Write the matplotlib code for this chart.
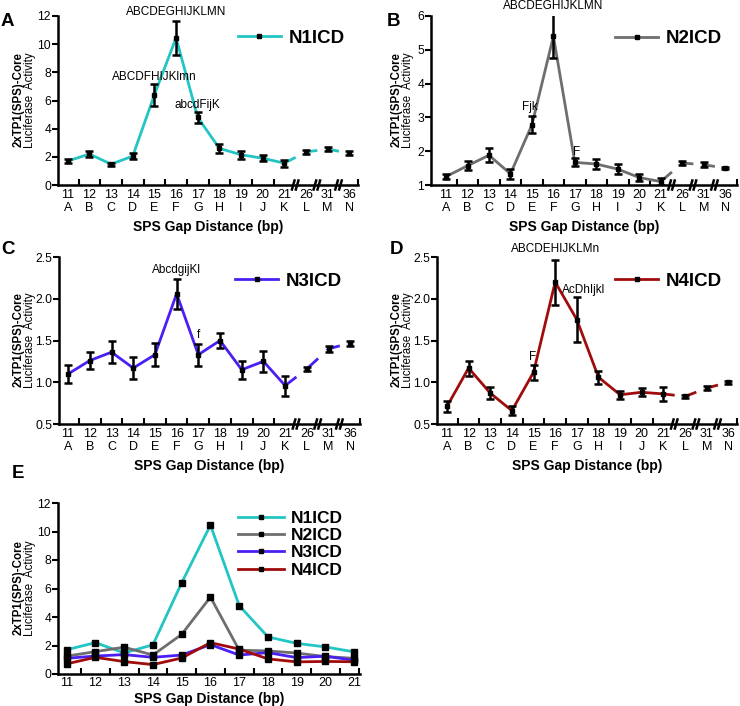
import matplotlib
matplotlib.use("Agg")
import matplotlib.pyplot as plt
import matplotlib.transforms as mtransforms

plt.rcParams['font.family'] = ['Liberation Sans', 'DejaVu Sans']

# --- data ---------------------------------------------------------------
gaps = [11, 12, 13, 14, 15, 16, 17, 18, 19, 20, 21, 26, 31, 36]
letters = ["A", "B", "C", "D", "E", "F", "G", "H", "I", "J", "K", "L", "M", "N"]

n1_mean = [1.70, 2.20, 1.48, 2.05, 6.40, 10.45, 4.80, 2.60, 2.15, 1.90, 1.55, 2.35, 2.55, 2.25]
n1_err = [0.12, 0.22, 0.10, 0.22, 0.80, 1.20, 0.40, 0.30, 0.28, 0.22, 0.25, 0.15, 0.12, 0.15]

n2_mean = [1.25, 1.57, 1.88, 1.33, 2.78, 5.40, 1.67, 1.62, 1.47, 1.22, 1.10, 1.65, 1.60, 1.50]
n2_err = [0.08, 0.14, 0.20, 0.15, 0.25, 0.65, 0.12, 0.16, 0.15, 0.10, 0.10, 0.05, 0.07, 0.04]

n3_mean = [1.10, 1.26, 1.36, 1.17, 1.33, 2.06, 1.33, 1.50, 1.15, 1.25, 0.96, 1.16, 1.40, 1.47]
n3_err = [0.11, 0.10, 0.13, 0.13, 0.14, 0.18, 0.13, 0.09, 0.11, 0.13, 0.12, 0.02, 0.04, 0.03]

n4_mean = [0.71, 1.17, 0.87, 0.66, 1.12, 2.20, 1.75, 1.06, 0.85, 0.88, 0.86, 0.83, 0.93, 1.00]
n4_err = [0.07, 0.09, 0.07, 0.05, 0.09, 0.27, 0.27, 0.08, 0.05, 0.05, 0.08, 0.02, 0.02, 0.02]

names = ["N1ICD", "N2ICD", "N3ICD", "N4ICD"]
colors = ["#22c4c4", "#6e6e6e", "#4a1ef5", "#a00c0c"]

# significance letters: (label, x index, y)
notes_a = [("ABCDEGHIJKLMN", 5.0, 12.25), ("ABCDFHIJKlmn", 4.0, 7.7), ("abcdFijK", 6.0, 5.7)]
notes_b = [("ABCDEGHIJKLMN", 5.0, 6.3), ("Fjk", 3.9, 3.3), ("F", 6.1, 1.98)]
notes_c = [("AbcdgijKl", 5.0, 2.34), ("f", 6.0, 1.56)]
notes_d = [("ABCDEHIJKLMn", 5.0, 2.6), ("AcDhIjkl", 6.3, 2.1), ("F", 3.95, 1.3)]

W, H = 740, 706
fig = plt.figure(figsize=(W / 100, H / 100), dpi=100)


def px_axes(l, t, r, b):
    return fig.add_axes([l / W, 1 - b / H, (r - l) / W, (b - t) / H])


def style_axes(ax, xlim, ylim, yticks, ylabels, minor, xpad=3):
    for s in ["top", "right"]:
        ax.spines[s].set_visible(False)
    for s in ["left", "bottom"]:
        ax.spines[s].set_linewidth(1.8)
    ax.set_xlim(*xlim)
    ax.set_ylim(*ylim)
    ax.set_yticks(yticks)
    ax.set_yticklabels(ylabels, fontsize=8.7)
    ax.tick_params(axis="y", direction="out", length=4, width=1.5, pad=1)
    ax.set_xticks(minor, minor=True)
    ax.tick_params(axis="x", which="minor", direction="in", length=4, width=1.5)
    ax.tick_params(axis="x", which="major", length=0, pad=xpad, labelsize=9)


def ylabel(x1, x2, yc):
    fig.text(x1 / W, 1 - yc / H, "2xTP1(SPS)-Core", rotation=90, fontsize=8.3,
             fontweight="bold", ha="center", va="center")
    fig.text(x2 / W, 1 - yc / H, "Luciferase  Activity", rotation=90, fontsize=8.3,
             ha="center", va="center")


def broken_line(ax, xs, ys, color, breaks):
    for i in range(len(xs) - 1):
        x0, x1, y0, y1 = xs[i], xs[i + 1], ys[i], ys[i + 1]
        b = [v for v in breaks if x0 < v < x1]
        if b:
            b = b[0]
            xa, xb = b + 0.02, b + 0.42
            ya = y0 + (y1 - y0) * (xa - x0) / (x1 - x0)
            yb = y0 + (y1 - y0) * (xb - x0) / (x1 - x0)
            ax.plot([x0, xa], [y0, ya], color=color, lw=2, solid_capstyle="butt", zorder=2)
            ax.plot([xb, x1], [yb, y1], color=color, lw=2, solid_capstyle="butt", zorder=2)
        else:
            ax.plot([x0, x1], [y0, y1], color=color, lw=2, solid_capstyle="round", zorder=2)


def break_marks(ax, breaks, hpx):
    trans = mtransforms.blended_transform_factory(ax.transData, ax.transAxes)
    dy = 4.5 / hpx
    for b in breaks:
        for off in (-0.09, 0.09):
            ax.plot([b + off - 0.06, b + off + 0.06], [-dy, dy], color="k", lw=1.8,
                    transform=trans, clip_on=False, zorder=5)


def panel(rect, mean, err, color, name, xlim, ylim, yticks, ylabels, notes, leg_anchor):
    ax = px_axes(*rect)
    xs = list(range(len(gaps)))
    breaks = [10.5, 11.5, 12.5]
    broken_line(ax, xs, mean, color, breaks)
    ax.errorbar(xs, mean, yerr=err, fmt="none", ecolor="k", elinewidth=1.8,
                capsize=3, capthick=1.8, zorder=3)
    ax.plot(xs, mean, "s", color="k", ms=3.5, zorder=4)
    style_axes(ax, xlim, ylim, yticks, ylabels,
               [i + 0.5 for i in range(10)] + [xlim[1] - 0.02])
    ax.set_xticks(xs)
    ax.set_xticklabels([f"{g}\n{l}" for g, l in zip(gaps, letters)])
    for t in ax.get_xticklabels():
        t.set_linespacing(1.05)
    break_marks(ax, breaks, rect[3] - rect[1])
    for txt, x, y in notes:
        ax.text(x, y, txt, fontsize=8.5, ha="center", va="center", clip_on=False)
    h, = ax.plot([], [], color=color, lw=2, marker="s", ms=3.5, mfc="k", mec="k")
    ax.legend([h], [name], loc="upper right", bbox_to_anchor=leg_anchor, frameon=False,
              handlelength=2.3, handletextpad=0.4, borderaxespad=0,
              prop={"weight": "bold", "size": 13.5})
    fig.text((rect[0] + rect[2]) / 2 / W, 1 - (rect[3] + 42) / H, "SPS Gap Distance (bp)",
             fontsize=10, fontweight="bold", ha="center", va="center")
    return ax


panel((58, 16, 358, 185), n1_mean, n1_err, colors[0], names[0], (-0.45, 13.4), (0, 12),
      [0, 2, 4, 6, 8, 10, 12], ["0", "2", "4", "6", "8", "10", "12"], notes_a, (0.98, 0.965))
panel((431, 16, 737, 185), n2_mean, n2_err, colors[1], names[1], (-0.7, 13.55), (1, 6),
      [1, 2, 3, 4, 5, 6], ["1", "2", "3", "4", "5", "6"], notes_b, (0.975, 0.96))
panel((59, 257, 360, 424), n3_mean, n3_err, colors[2], names[2], (-0.42, 13.45), (0.5, 2.5),
      [0.5, 1.0, 1.5, 2.0, 2.5], ["0.5", "1.0", "1.5", "2.0", "2.5"], notes_c, (0.965, 0.95))
panel((437, 257, 737, 424), n4_mean, n4_err, colors[3], names[3], (-0.46, 13.4), (0.5, 2.5),
      [0.5, 1.0, 1.5, 2.0, 2.5], ["0.5", "1.0", "1.5", "2.0", "2.5"], notes_d, (0.975, 0.95))

ylabel(19, 30, 100)
ylabel(397, 408, 100)
ylabel(18.5, 29.5, 340)
ylabel(396.5, 407.5, 340)
ylabel(19, 30, 588)

# panel E: overlay of the 11-21 bp range
ax = px_axes(58, 503, 360, 674)
xs = list(range(11))
handles = []
for mean, c in zip([n1_mean, n2_mean, n3_mean, n4_mean], colors):
    ax.plot(xs, mean[:11], color=c, lw=2, marker="s", ms=4.5, mfc="k", mec="k")
    h, = ax.plot([], [], color=c, lw=2, marker="s", ms=3.5, mfc="k", mec="k")
    handles.append(h)
style_axes(ax, (-0.3, 10.2), (0, 12), [0, 2, 4, 6, 8, 10, 12],
           ["0", "2", "4", "6", "8", "10", "12"], [i + 0.5 for i in range(10)] + [10.18],
           xpad=2)
ax.set_xticks(xs)
ax.set_xticklabels([str(g) for g in gaps[:11]])
ax.legend(handles, names, loc="upper right", bbox_to_anchor=(0.965, 0.995), frameon=False,
          handlelength=2.6, handletextpad=0.4, labelspacing=0.12, borderaxespad=0,
          prop={"weight": "bold", "size": 12.5})
fig.text(209 / W, 1 - 699 / H, "SPS Gap Distance (bp)", fontsize=10, fontweight="bold",
         ha="center", va="center")

for lab, x, y in [("A", 1, 22), ("B", 387, 22), ("C", 1, 250), ("D", 390, 250), ("E", 12, 474)]:
    fig.text(x / W, 1 - y / H, lab, fontsize=13.5, fontweight="bold", ha="left", va="center")

fig.savefig("out.png", dpi=100)
